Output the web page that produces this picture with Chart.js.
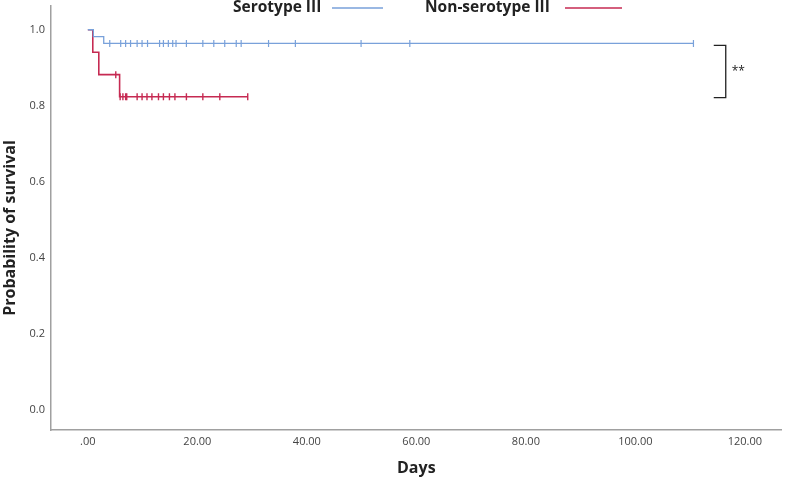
<!DOCTYPE html>
<html>
<head>
<meta charset="utf-8">
<script src="https://cdn.jsdelivr.net/npm/chart.js@4/dist/chart.umd.min.js"></script>
<style>
    html, body { margin: 0; padding: 0; background: #fff; }
    #wrap { width: 787px; height: 478px; }
</style>
</head>
<body>
<div id="wrap"><canvas id="kmChart" width="787" height="478"></canvas></div>
<script>
// Kaplan-Meier data (days, survival probability)
const seroEventDays = [0, 1.0, 2.9];
const seroEventSurv = [1, 0.982, 0.964];
const seroCensorDays = [4, 6, 6.9, 7.8, 9, 9.9, 10.9, 13.1, 13.8, 14.7, 15.5, 16.1, 18, 21, 23, 25, 27.1, 28, 33, 37.9, 49.9, 58.8, 110.6];

const nonEventDays = [0, 0.9, 2.0, 5.8];
const nonEventSurv = [1, 0.941, 0.882, 0.824];
const nonCensorDays = [5.1, 5.9, 6.4, 6.9, 7.1, 9, 9.9, 10.8, 11.7, 12.9, 13.8, 14.9, 15.9, 18, 21, 24.1, 29.2];

const xTicks = [0, 20, 40, 60, 80, 100, 120];
const yTicks = [0, 0.2, 0.4, 0.6, 0.8, 1.0];

const blue = '#79a1da';
const red = '#c62a52';
const font = '"Open Sans", "DejaVu Sans", sans-serif';

// survival level of a step curve at time t
function survivalAt(days, surv, t) {
    let s = surv[0];
    for (let i = 0; i < days.length; i++) {
        if (days[i] <= t) s = surv[i];
    }
    return s;
}

function curve(days, surv, censors) {
    let pts = days.map((d, i) => ({ x: d, y: surv[i] }));
    let last = censors[censors.length - 1];
    pts.push({ x: last, y: survivalAt(days, surv, last) });
    return pts;
}

function marks(days, surv, censors) {
    return censors.map(c => ({ x: c, y: survivalAt(days, surv, c) }));
}

// legend with the line after the label, y title, and the ** bracket on the right
const extras = {
    id: 'extras',
    afterDraw(chart) {
        const c = chart.ctx;
        c.save();
        c.font = 'bold 15.5px ' + font;
        c.fillStyle = '#222';
        c.textBaseline = 'middle';
        c.fillText('Serotype III', 233, 8);
        c.fillText('Non-serotype III', 425, 8);
        c.lineWidth = 1.3;
        c.strokeStyle = blue;
        c.beginPath(); c.moveTo(332, 8); c.lineTo(383, 8); c.stroke();
        c.strokeStyle = red;
        c.beginPath(); c.moveTo(565, 8); c.lineTo(622, 8); c.stroke();

        // rotated y title
        c.save();
        c.translate(10, 228);
        c.rotate(-Math.PI / 2);
        c.textAlign = 'center';
        c.font = 'bold 16px ' + font;
        c.fillText('Probability of survival', 0, 0);
        c.restore();

        const x = chart.scales.x, y = chart.scales.y;
        const bx = x.getPixelForValue(116.5);
        const top = y.getPixelForValue(seroEventSurv[seroEventSurv.length - 1]) + 2;
        const bot = y.getPixelForValue(nonEventSurv[nonEventSurv.length - 1]) + 1;
        c.strokeStyle = '#222';
        c.lineWidth = 1.3;
        c.beginPath();
        c.moveTo(bx - 12, top); c.lineTo(bx, top); c.lineTo(bx, bot); c.lineTo(bx - 12, bot);
        c.stroke();
        c.font = '12px ' + font;
        c.fillText('**', bx + 6, (top + bot) / 2);
        c.restore();
    }
};

const ctx = document.getElementById('kmChart').getContext('2d');
new Chart(ctx, {
    type: 'scatter',
    data: {
        datasets: [
            {
                label: 'Serotype III',
                data: curve(seroEventDays, seroEventSurv, seroCensorDays),
                showLine: true, stepped: 'before',
                borderColor: blue, borderWidth: 1.3, pointRadius: 0
            },
            {
                label: 'Non-serotype III',
                data: curve(nonEventDays, nonEventSurv, nonCensorDays),
                showLine: true, stepped: 'before',
                borderColor: red, borderWidth: 1.6, pointRadius: 0
            },
            {
                label: 'sero censored',
                data: marks(seroEventDays, seroEventSurv, seroCensorDays),
                pointStyle: 'line', rotation: 90, pointRadius: 3.5,
                borderColor: blue, borderWidth: 1.2
            },
            {
                label: 'non censored',
                data: marks(nonEventDays, nonEventSurv, nonCensorDays),
                pointStyle: 'line', rotation: 90, pointRadius: 3.5,
                borderColor: red, borderWidth: 1.4
            }
        ]
    },
    options: {
        responsive: false,
        animation: false,
        layout: { padding: { top: 3, right: 2, left: 0, bottom: 0 } },
        plugins: { legend: { display: false }, tooltip: { enabled: false } },
        scales: {
            x: {
                type: 'linear', min: -6.73, max: 126.7,
                grid: { display: false, drawTicks: false },
                border: { color: '#a0a0a0', width: 1.5 },
                afterFit(s) { s.height = 48; s.paddingLeft = 0; s.paddingRight = 0; },
                afterBuildTicks(s) { s.ticks = xTicks.map(v => ({ value: v })); },
                ticks: {
                    color: '#444', font: { family: font, size: 11 }, padding: 5,
                    callback: v => v === 0 ? '.00' : v.toFixed(2)
                },
                title: {
                    display: true, text: 'Days', color: '#222',
                    font: { family: font, size: 16, weight: 'bold' }, padding: { top: 0, bottom: 0 }
                }
            },
            y: {
                type: 'linear', min: -0.0523, max: 1.064,
                grid: { display: false, drawTicks: false },
                border: { color: '#a0a0a0', width: 1.5 },
                // keep the plot area up to the top edge, no room for label overhang
                afterFit(s) { s.width = 51; s.paddingTop = 0; s.paddingBottom = 0; },
                afterBuildTicks(s) { s.ticks = yTicks.map(v => ({ value: v })); },
                ticks: {
                    color: '#444', font: { family: font, size: 11 }, padding: 6,
                    callback: v => v.toFixed(1)
                }
            }
        }
    },
    plugins: [extras]
});
</script>
</body>
</html>
